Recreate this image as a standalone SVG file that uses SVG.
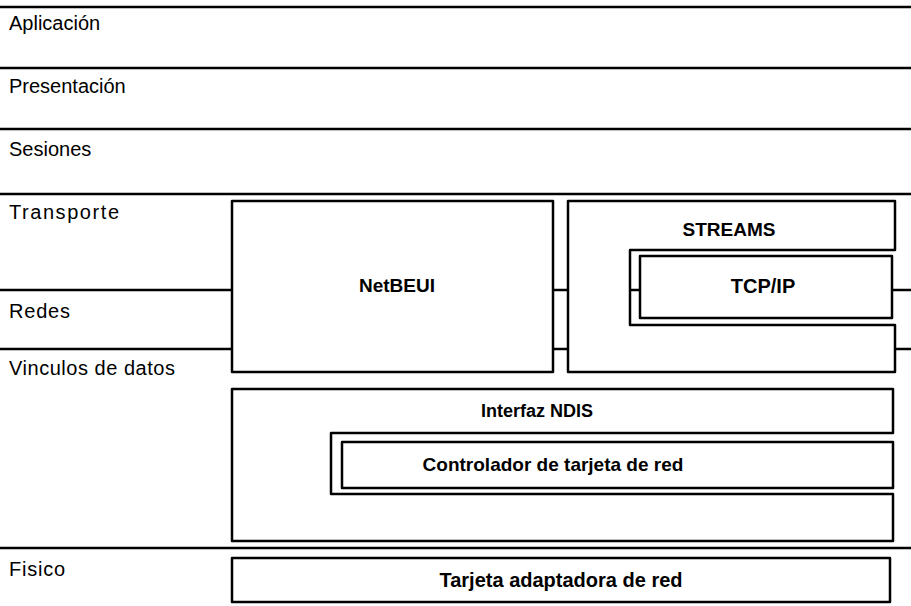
<svg xmlns="http://www.w3.org/2000/svg" width="911" height="606" viewBox="0 0 911 606">
<style>
.bg{fill:#ffffff}
.ln{stroke:#000;stroke-width:2.5;fill:none}
.bx{stroke:#000;stroke-width:2.5;fill:none;stroke-linejoin:round}
.lbl{font-family:"Liberation Sans",Arial,sans-serif;font-size:20px;fill:#000}
.lbl2{font-family:"Liberation Sans",Arial,sans-serif;font-size:20px;fill:#000}
.bt{font-family:"Liberation Sans",Arial,sans-serif;font-weight:bold;font-size:19px;fill:#000;text-anchor:middle}
</style>
<rect class="bg" x="0" y="0" width="911" height="606"/>
<g id="connectors">
<line class="ln" x1="0" y1="7" x2="911" y2="7"/>
<line class="ln" x1="0" y1="68" x2="911" y2="68"/>
<line class="ln" x1="0" y1="129" x2="911" y2="129"/>
<line class="ln" x1="0" y1="194" x2="911" y2="194"/>
<line class="ln" x1="0" y1="290" x2="232" y2="290"/>
<line class="ln" x1="553" y1="290" x2="568" y2="290"/>
<line class="ln" x1="630" y1="290" x2="640" y2="290"/>
<line class="ln" x1="893" y1="290" x2="911" y2="290"/>
<line class="ln" x1="0" y1="349" x2="232" y2="349"/>
<line class="ln" x1="553" y1="349" x2="568" y2="349"/>
<line class="ln" x1="895" y1="349" x2="911" y2="349"/>
<line class="ln" x1="0" y1="548" x2="911" y2="548"/>
</g>
<g id="layers">
<text class="lbl" x="9" y="30">Aplicación</text>
<text class="lbl" x="9" y="93">Presentación</text>
<text class="lbl" x="9" y="156">Sesiones</text>
<text class="lbl2" x="9" y="219" textLength="110" lengthAdjust="spacing">Transporte</text>
<text class="lbl2" x="9" y="318" textLength="61" lengthAdjust="spacing">Redes</text>
<text class="lbl2" x="9" y="375" textLength="166" lengthAdjust="spacing">Vinculos de datos</text>
<text class="lbl2" x="9" y="576" textLength="56" lengthAdjust="spacing">Fisico</text>
</g>
<g id="netbeui">
<rect class="bx" x="232" y="201" width="321" height="171"/>
<text class="bt" x="397" y="292">NetBEUI</text>
</g>
<g id="streams">
<path class="bx" d="M568,201 H895 V250 H630 V325 H895 V372 H568 Z"/>
<text class="bt" x="729" y="236">STREAMS</text>
</g>
<g id="tcpip">
<rect class="bx" x="640" y="256" width="252" height="62"/>
<text class="bt" x="763" y="293" style="font-size:20px">TCP/IP</text>
</g>
<g id="ndis">
<path class="bx" d="M232,389 H893 V433 H331 V494 H893 V541 H232 Z"/>
<text class="bt" x="537" y="417" style="font-size:18px">Interfaz NDIS</text>
</g>
<g id="controlador">
<rect class="bx" x="342" y="442" width="551" height="46"/>
<text class="bt" x="553" y="471">Controlador de tarjeta de red</text>
</g>
<g id="tarjeta">
<rect class="bx" x="232" y="558" width="658" height="44"/>
<text class="bt" x="561" y="587" style="font-size:20px">Tarjeta adaptadora de red</text>
</g>
</svg>
